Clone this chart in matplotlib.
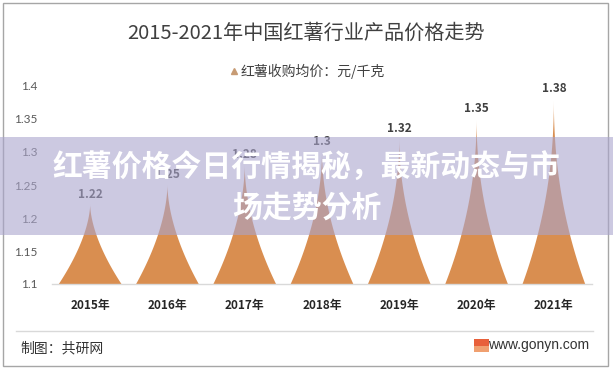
import numpy as np
import matplotlib
matplotlib.use('Agg')
from matplotlib import pyplot as plt
from matplotlib.patches import Rectangle
from matplotlib.lines import Line2D

plt.rcParams['font.family'] = ['Noto Sans CJK SC', 'DejaVu Sans']

# data
years = ['2015年', '2016年', '2017年', '2018年', '2019年', '2020年', '2021年']
prices = [1.22, 1.25, 1.28, 1.3, 1.32, 1.35, 1.38]
yticks = [1.1, 1.15, 1.2, 1.25, 1.3, 1.35, 1.4]
ytick_labels = ['1.1', '1.15', '1.2', '1.25', '1.3', '1.35', '1.4']

title = '2015-2021年中国红薯行业产品价格走势'
legend_label = '红薯收购均价：元/千克'
banner_lines = ['红薯价格今日行情揭秘，最新动态与市', '场走势分析']
source = '制图：共研网'
site = 'www.gonyn.com'

W, H = 613, 372
orange = '#D98E50'
base = 1.1


def fy(py):
    return 1 - py / H


fig = plt.figure(figsize=(W / 100, H / 100), dpi=100)
fig.patch.set_facecolor('white')

ax = fig.add_axes([51.5 / W, fy(284), 541 / W, 198 / H])
ax.set_xlim(-0.5, len(years) - 0.5)
ax.set_ylim(1.1, 1.4)

# peaked "spike" columns with concave sides
hw = 0.405
t = np.linspace(0, 1, 100)
for i, v in enumerate(prices):
    p = 1.3 + 3.0 * (v - base)
    half = hw * (1 - t) ** p
    yy = base + t * (v - base)
    xs = np.concatenate([i - half, (i + half)[::-1]])
    ys = np.concatenate([yy, yy[::-1]])
    ax.fill(xs, ys, color=orange, lw=0, zorder=2)
    ax.text(i, v + 0.006, f'{v:g}', ha='center', va='bottom', fontsize=8.5,
            fontweight='bold', color='#404040', zorder=3)

for s in ['top', 'right', 'left']:
    ax.spines[s].set_visible(False)
ax.spines['bottom'].set_color('#D9D9D9')
ax.spines['bottom'].set_linewidth(1)
ax.set_yticks(yticks)
ax.set_yticklabels(ytick_labels, fontsize=8.5, color='#595959', family='Lato')
ax.set_xticks(range(len(years)))
ax.set_xticklabels(years, fontsize=8.5, fontweight='bold', color='#262626')
ax.tick_params(axis='y', length=0, pad=10)
ax.tick_params(axis='x', length=0, pad=11)

fig.text(0.5, fy(33), title, ha='center', va='center', fontsize=14.5, color='#404040')

h = Line2D([], [], marker='^', ls='', color='#C79B74', markersize=5)
fig.legend(handles=[h], labels=[legend_label], loc='center', bbox_to_anchor=(0.5, fy(71)),
           frameon=False, fontsize=10, handletextpad=0.1, handlelength=0.8,
           labelcolor='#404040')

# footer
fig.add_artist(Line2D([16 / W, 593 / W], [fy(331), fy(331)], color='#D9D9D9', lw=1))
fig.text(20 / W, fy(348), source, ha='left', va='center', fontsize=10, color='#333333')
fig.text(589 / W, fy(345), site, ha='right', va='center', fontsize=10, color='#333333',
         family='Liberation Sans')
fig.add_artist(Rectangle((474 / W, fy(352)), 15 / W, 13 / H, transform=fig.transFigure,
                         color='#F0A070', lw=0))
fig.add_artist(Rectangle((474 / W, fy(346)), 15 / W, 7 / H, transform=fig.transFigure,
                         color='#E8603A', lw=0))

# outer border
fig.add_artist(Rectangle((3 / W, fy(366)), 605 / W, 363 / H, transform=fig.transFigure,
                         fill=False, ec='#A6A6A6', lw=1))

# overlay banner
fig.add_artist(Rectangle((0, fy(235)), 1, 98 / H, transform=fig.transFigure,
                         color='#AAA5CD', alpha=0.6, lw=0, zorder=10))
fig.text(0.5, fy(168), banner_lines[0], ha='center', va='center', fontsize=21.5,
         fontweight='bold', color='white', zorder=11)
fig.text(0.5, fy(208), banner_lines[1], ha='center', va='center', fontsize=21.5,
         fontweight='bold', color='white', zorder=11)

fig.savefig('out.png', dpi=100)
